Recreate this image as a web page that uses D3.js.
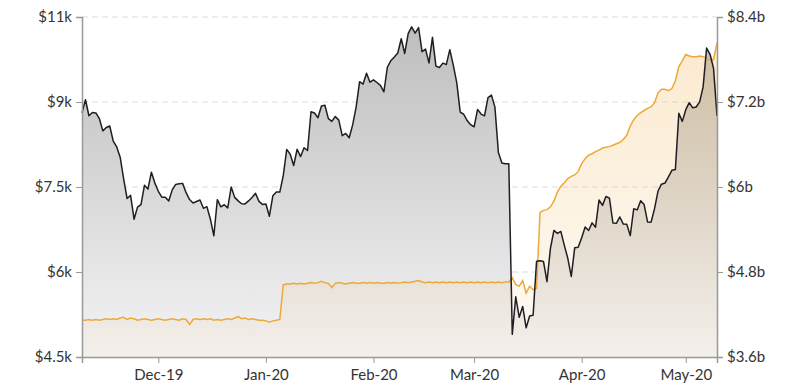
<!DOCTYPE html>
<html>
<head>
<meta charset="utf-8">
<script src="https://cdn.jsdelivr.net/npm/d3@7"></script>
<style>
  body { margin: 0; background: #fff; }
  .tick text { font-family: Lato, "Open Sans", sans-serif; font-size: 15px; fill: #333; }
</style>
</head>
<body>
<div class="chart"></div>
<script>
// daily closes, Nov 9 2019 -> May 10 2020
const startDate = new Date(Date.UTC(2019, 10, 9))
const endDate = new Date(Date.UTC(2020, 4, 10))

const priceUsd = [
  // Nov 9-30
  8808, 9040, 8757, 8815, 8808, 8708, 8491, 8550, 8577, 8310, 8206, 8027, 7643, 7297, 7352, 6932, 7145, 7190, 7530, 7463, 7761, 7569,
  // Dec
  7424, 7321, 7320, 7252, 7449, 7546, 7556, 7564, 7400, 7278, 7217, 7243, 7270, 7124, 7153, 6932, 6640, 7277, 7150, 7187, 7132, 7501, 7317, 7255, 7205, 7202, 7254, 7316, 7388, 7246, 7193,
  // Jan
  7200, 6985, 7345, 7411, 7411, 7700, 8163, 8079, 7879, 8166, 8037, 8192, 8144, 8828, 8807, 8723, 8929, 8943, 8706, 8658, 8745, 8680, 8406, 8445, 8368, 8596, 8910, 9358, 9316, 9508, 9350,
  // Feb
  9392, 9344, 9293, 9180, 9613, 9729, 9795, 9865, 10116, 9856, 10208, 10326, 10214, 10312, 9889, 9934, 9690, 10141, 9633, 9608, 9686, 9663, 9924, 9650, 9342, 8820, 8784, 8672, 8599,
  // Mar
  8562, 8869, 8787, 8756, 9078, 9122, 8909, 8108, 7923, 7909, 7911, 4900, 5563, 5200, 5392, 5014, 5225, 5238, 6191, 6198, 6185, 5830, 6416, 6734, 6681, 6716, 6469, 6242, 5922, 6429, 6438,
  // Apr
  6606, 6793, 6733, 6867, 6791, 7271, 7176, 7334, 7302, 6865, 6859, 6971, 6845, 6842, 6642, 7116, 7096, 7257, 7189, 6881, 6880, 7117, 7429, 7550, 7569, 7679, 7795, 7807, 8801, 8658,
  // May 1-10
  8864, 8988, 8897, 8912, 9003, 9268, 9951, 9842, 9593, 8756
]

// billions
const supplyBn = [
  // Nov 9-30
  4.12, 4.12, 4.13, 4.12, 4.13, 4.12, 4.13, 4.14, 4.13, 4.14, 4.13, 4.15, 4.16, 4.13, 4.15, 4.14, 4.12, 4.13, 4.14, 4.13, 4.12, 4.13,
  // Dec
  4.14, 4.13, 4.12, 4.13, 4.14, 4.13, 4.12, 4.14, 4.13, 4.06, 4.13, 4.14, 4.13, 4.14, 4.13, 4.14, 4.12, 4.13, 4.12, 4.13, 4.14, 4.13, 4.15, 4.17, 4.14, 4.15, 4.13, 4.14, 4.13, 4.12, 4.12,
  // Jan
  4.11, 4.09, 4.11, 4.12, 4.13, 4.62, 4.63, 4.63, 4.64, 4.63, 4.64, 4.63, 4.64, 4.65, 4.64, 4.65, 4.67, 4.65, 4.64, 4.58, 4.64, 4.65, 4.64, 4.63, 4.64, 4.65, 4.64, 4.64, 4.65, 4.64, 4.65,
  // Feb
  4.64, 4.65, 4.64, 4.64, 4.65, 4.64, 4.65, 4.64, 4.65, 4.66, 4.65, 4.66, 4.67, 4.68, 4.66, 4.65, 4.66, 4.65, 4.66, 4.65, 4.66, 4.65, 4.66, 4.65, 4.66, 4.65, 4.66, 4.65, 4.66,
  // Mar
  4.65, 4.66, 4.65, 4.66, 4.65, 4.66, 4.65, 4.66, 4.65, 4.66, 4.66, 4.72, 4.62, 4.60, 4.68, 4.50, 4.60, 4.55, 4.57, 5.64, 5.67, 5.68, 5.72, 5.80, 5.93, 6.01, 6.06, 6.12, 6.15, 6.17, 6.22,
  // Apr
  6.33, 6.40, 6.45, 6.47, 6.50, 6.52, 6.55, 6.56, 6.57, 6.59, 6.61, 6.63, 6.67, 6.73, 6.86, 6.95, 7.01, 7.05, 7.08, 7.11, 7.13, 7.19, 7.33, 7.38, 7.38, 7.36, 7.39, 7.50, 7.70, 7.78,
  // May 1-10
  7.87, 7.85, 7.84, 7.84, 7.85, 7.84, 7.82, 7.79, 7.80, 8.03
]

const leftTicks = [4500, 6000, 7500, 9000, 10500]
const leftTickLabels = ["$4.5k", "$6k", "$7.5k", "$9k", "$11k"]
const rightTicks = [3.6, 4.8, 6, 7.2, 8.4]
const rightTickLabels = ["$3.6b", "$4.8b", "$6b", "$7.2b", "$8.4b"]

function drawChart() {

    const days = d3.utcDay.range(startDate, d3.utcDay.offset(endDate, 1))
    const data = days.map((d, i) => ({ date: d, price: priceUsd[i], supply: supplyBn[i] }))

    let dimensions = {
        width: 799,
        height: 387,
        margin: { top: 17, right: 82, bottom: 30, left: 82 },
    }
    dimensions.boundedWidth = dimensions.width - dimensions.margin.left - dimensions.margin.right
    dimensions.boundedHeight = dimensions.height - dimensions.margin.top - dimensions.margin.bottom

    const xScale = d3.scaleUtc()
        .domain([startDate, endDate])
        .range([0, dimensions.boundedWidth])

    const yLeft = d3.scaleLinear()
        .domain([4500, 10500])
        .range([dimensions.boundedHeight, 0])

    const yRight = d3.scaleLinear()
        .domain([3.6, 8.4])
        .range([dimensions.boundedHeight, 0])

    const wrapper = d3.select(".chart")
        .append("svg")
        .attr("width", dimensions.width)
        .attr("height", dimensions.height)

    const defs = wrapper.append("defs")

    const grayGrad = defs.append("linearGradient")
        .attr("id", "grayGrad")
        .attr("gradientUnits", "userSpaceOnUse")
        .attr("x1", 0).attr("x2", 0)
        .attr("y1", 0).attr("y2", dimensions.boundedHeight)
    grayGrad.append("stop").attr("offset", "0%").attr("stop-color", "#bcbcbc")
    grayGrad.append("stop").attr("offset", "100%").attr("stop-color", "#f4f4f6")

    const orangeGrad = defs.append("linearGradient")
        .attr("id", "orangeGrad")
        .attr("gradientUnits", "userSpaceOnUse")
        .attr("x1", 0).attr("x2", 0)
        .attr("y1", 0).attr("y2", dimensions.boundedHeight)
    orangeGrad.append("stop").attr("offset", "0%").attr("stop-color", "#f5b85a").attr("stop-opacity", 0.32)
    orangeGrad.append("stop").attr("offset", "100%").attr("stop-color", "#f0c888").attr("stop-opacity", 0.1)

    const bounds = wrapper.append("g")
        .style("transform", `translate(${dimensions.margin.left}px, ${dimensions.margin.top}px)`)

    // dashed grid
    bounds.append("g")
        .selectAll("line")
        .data(leftTicks.slice(1))
        .join("line")
        .attr("x1", 0)
        .attr("x2", dimensions.boundedWidth)
        .attr("y1", d => yLeft(d))
        .attr("y2", d => yLeft(d))
        .attr("stroke", "#dcdcdc")
        .attr("stroke-dasharray", "6,4")

    const priceArea = d3.area()
        .x(d => xScale(d.date))
        .y0(dimensions.boundedHeight)
        .y1(d => yLeft(d.price))

    const supplyArea = d3.area()
        .x(d => xScale(d.date))
        .y0(dimensions.boundedHeight)
        .y1(d => yRight(d.supply))

    bounds.append("path")
        .attr("d", priceArea(data))
        .attr("fill", "url(#grayGrad)")

    bounds.append("path")
        .attr("d", supplyArea(data))
        .attr("fill", "url(#orangeGrad)")

    const supplyLine = d3.line()
        .x(d => xScale(d.date))
        .y(d => yRight(d.supply))

    const priceLine = d3.line()
        .x(d => xScale(d.date))
        .y(d => yLeft(d.price))

    bounds.append("path")
        .attr("d", supplyLine(data))
        .attr("fill", "none")
        .attr("stroke", "#eda937")
        .attr("stroke-width", 1.5)

    bounds.append("path")
        .attr("d", priceLine(data))
        .attr("fill", "none")
        .attr("stroke", "#1e1e24")
        .attr("stroke-width", 1.5)
        .attr("stroke-linejoin", "round")

    // axes
    const leftAxis = d3.axisLeft(yLeft)
        .tickValues(leftTicks)
        .tickFormat((d, i) => leftTickLabels[i])
        .tickSize(6)
        .tickPadding(4)

    const rightAxis = d3.axisRight(yRight)
        .tickValues(rightTicks)
        .tickFormat((d, i) => rightTickLabels[i])
        .tickSize(6)
        .tickPadding(4)

    const bottomAxis = d3.axisBottom(xScale)
        .ticks(d3.utcMonth.every(1))
        .tickFormat(d3.utcFormat("%b-%y"))
        .tickSize(6)
        .tickPadding(6)

    const styleAxis = g => {
        g.selectAll(".domain").attr("stroke", "#999").attr("stroke-width", 1.5)
        g.selectAll(".tick line").attr("stroke", "#999")
    }

    bounds.append("g").call(leftAxis).call(styleAxis)
    bounds.append("g")
        .style("transform", `translateX(${dimensions.boundedWidth}px)`)
        .call(rightAxis).call(styleAxis)
    bounds.append("g")
        .style("transform", `translateY(${dimensions.boundedHeight}px)`)
        .call(bottomAxis).call(styleAxis)

    wrapper.selectAll(".tick text")
        .attr("font-family", null)
        .attr("font-size", null)
}

drawChart()
</script>
</body>
</html>
